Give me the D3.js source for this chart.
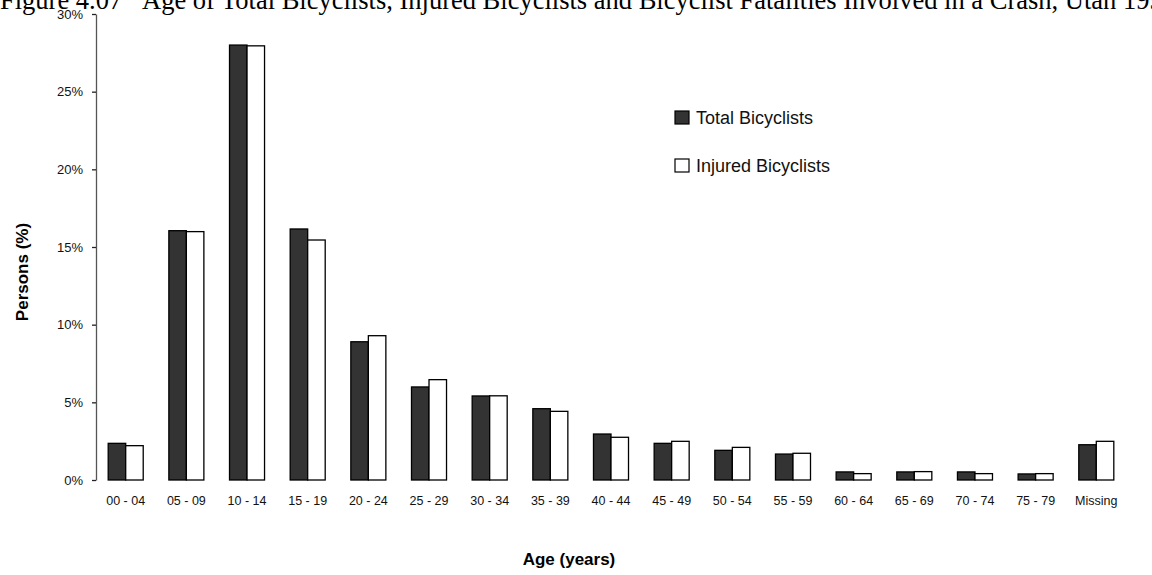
<!DOCTYPE html>
<html>
<head>
<meta charset="utf-8">
<script src="https://cdn.jsdelivr.net/npm/d3@7"></script>
<style>
  body { margin: 0; background: #fff; }
  svg { display: block; }
</style>
</head>
<body>
<svg id="chart" width="1152" height="575"></svg>
<script>
// age groups along the x axis
var ageGroups = ["00 - 04", "05 - 09", "10 - 14", "15 - 19", "20 - 24", "25 - 29",
    "30 - 34", "35 - 39", "40 - 44", "45 - 49", "50 - 54", "55 - 59",
    "60 - 64", "65 - 69", "70 - 74", "75 - 79", "Missing"];

// percent of persons
var totalBicyclists = [2.36, 16.05, 28.0, 16.16, 8.9, 5.99, 5.41, 4.59, 2.96, 2.36,
    1.91, 1.67, 0.52, 0.52, 0.52, 0.39, 2.27];
var injuredBicyclists = [2.21, 15.99, 27.95, 15.45, 9.29, 6.46, 5.42, 4.42, 2.75, 2.49,
    2.1, 1.72, 0.41, 0.54, 0.41, 0.41, 2.49];

var yTicks = [0, 5, 10, 15, 20, 25, 30];
var seriesNames = ["Total Bicyclists", "Injured Bicyclists"];
var seriesFill = ["#333333", "#ffffff"];

var titlePrefix = "Figure 4.07";
var titleMain = "Age of Total Bicyclists, Injured Bicyclists and Bicyclist Fatalities Involved in a Crash, Utah 1999";

var svg = d3.select("#chart");

var x0 = d3.scaleBand()
    .domain(ageGroups)
    .range([96, 1126])
    .paddingInner(0.4227)
    .paddingOuter(0.201);

var x1 = d3.scaleBand()
    .domain([0, 1])
    .range([0, x0.bandwidth()]);

var y = d3.scaleLinear()
    .domain([0, 30])
    .range([480, 14]);

// title, mostly above the top edge and running off the right like the original
var title = svg.append("text")
    .attr("y", 9)
    .attr("font-family", "Liberation Serif, Times New Roman, serif")
    .attr("font-size", 20)
    .attr("fill", "#000");

title.append("tspan").attr("x", 0).text(titlePrefix);
var main = title.append("tspan").attr("x", 142).text(titleMain);
// size it so "Age ... Utah 19" ends near x=1150 like the picture
var mainW = main.node().getSubStringLength(0, titleMain.length - 2);
title.attr("font-size", 20 * 1008 / mainW);

// y axis
var yAxis = svg.append("g")
    .attr("transform", "translate(96,0)")
    .call(d3.axisLeft(y)
        .tickValues(yTicks)
        .tickSize(4)
        .tickSizeOuter(0)
        .tickPadding(9)
        .tickFormat(function (d) { return d + "%"; }));

yAxis.select(".domain").attr("stroke", "#555").attr("stroke-width", 1.3);
yAxis.selectAll(".tick line").attr("stroke", "#222").attr("stroke-width", 1.3);
yAxis.selectAll(".tick text")
    .attr("font-family", "Liberation Sans, Arial, sans-serif")
    .attr("font-size", 13)
    .attr("fill", "#111");

// bars
var groups = svg.append("g").selectAll("g")
    .data(ageGroups)
    .enter().append("g")
    .attr("transform", function (d) { return "translate(" + x0(d) + ",0)"; });

groups.selectAll("rect")
    .data(function (d, i) { return [totalBicyclists[i], injuredBicyclists[i]]; })
    .enter().append("rect")
    .attr("x", function (d, k) { return x1(k); })
    .attr("y", function (d) { return y(d); })
    .attr("width", x1.bandwidth())
    .attr("height", function (d) { return y(0) - y(d); })
    .attr("fill", function (d, k) { return seriesFill[k]; })
    .attr("stroke", "#000")
    .attr("stroke-width", 1.3);

// x labels
svg.append("g").selectAll("text")
    .data(ageGroups)
    .enter().append("text")
    .attr("x", function (d) { return x0(d) + x0.bandwidth() / 2; })
    .attr("y", 505)
    .attr("text-anchor", "middle")
    .attr("font-family", "Liberation Sans, Arial, sans-serif")
    .attr("font-size", 12.5)
    .attr("fill", "#111")
    .text(function (d) { return d; });

// axis titles
svg.append("text")
    .attr("x", 569)
    .attr("y", 565)
    .attr("text-anchor", "middle")
    .attr("font-family", "Liberation Sans, Arial, sans-serif")
    .attr("font-weight", "bold")
    .attr("font-size", 17)
    .text("Age (years)");

svg.append("text")
    .attr("transform", "translate(28,272) rotate(-90)")
    .attr("text-anchor", "middle")
    .attr("font-family", "Liberation Sans, Arial, sans-serif")
    .attr("font-weight", "bold")
    .attr("font-size", 17)
    .text("Persons (%)");

// legend
var legend = svg.append("g").selectAll("g")
    .data(seriesNames)
    .enter().append("g")
    .attr("transform", function (d, i) { return "translate(675," + (111 + i * 48) + ")"; });

legend.append("rect")
    .attr("width", 14)
    .attr("height", 13)
    .attr("fill", function (d, i) { return seriesFill[i]; })
    .attr("stroke", "#000")
    .attr("stroke-width", 1.2);

legend.append("text")
    .attr("x", 21)
    .attr("y", 13)
    .attr("font-family", "Liberation Sans, Arial, sans-serif")
    .attr("font-size", 18)
    .attr("fill", "#111")
    .text(function (d) { return d; });
</script>
</body>
</html>
